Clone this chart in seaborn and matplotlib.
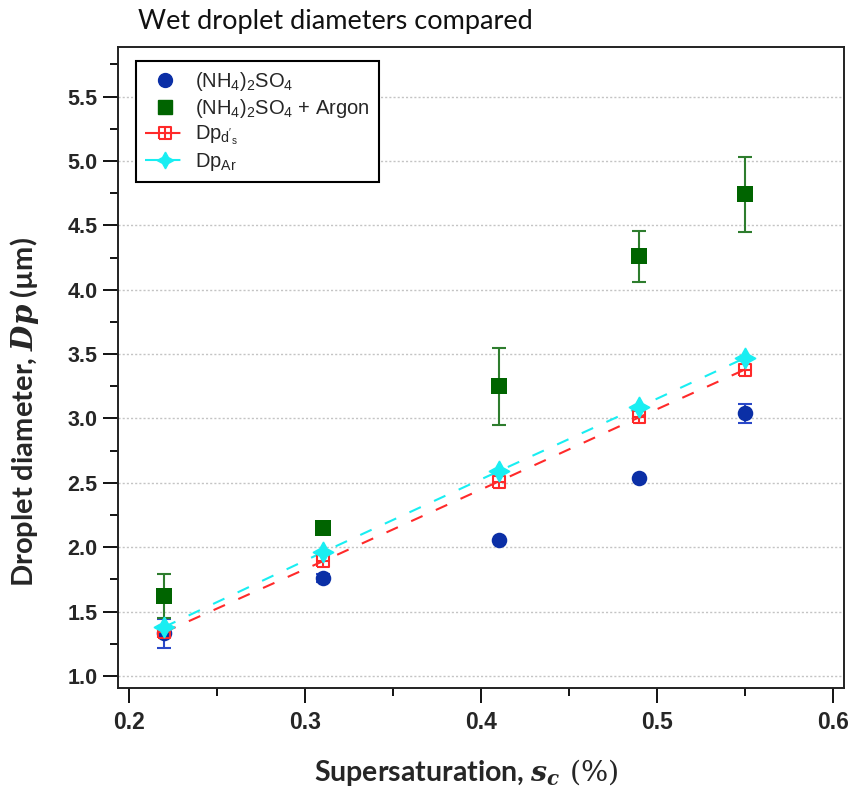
import numpy as np
import pandas as pd
import matplotlib
matplotlib.use("Agg")
import matplotlib.pyplot as plt
from matplotlib.path import Path
from matplotlib.lines import Line2D
from matplotlib.ticker import MultipleLocator
import seaborn as sns

# ---------------- data ----------------
supersat = [0.22, 0.31, 0.41, 0.49, 0.55]
as_dp = [1.33, 1.76, 2.06, 2.54, 3.04]
as_err = [0.11, 0.03, 0.0, 0.0, 0.075]
ar_dp = [1.62, 2.15, 3.25, 4.26, 4.74]
ar_err = [0.17, 0.0, 0.30, 0.20, 0.29]
dp_ds = [1.34, 1.89, 2.51, 3.01, 3.38]
dp_ar = [1.38, 1.96, 2.59, 3.09, 3.47]

x_ticks = [0.2, 0.3, 0.4, 0.5, 0.6]
x_ticklabels = ["0.2", "0.3", "0.4", "0.5", "0.6"]
y_ticks = [1.0, 1.5, 2.0, 2.5, 3.0, 3.5, 4.0, 4.5, 5.0, 5.5]
y_ticklabels = ["1.0", "1.5", "2.0", "2.5", "3.0", "3.5", "4.0", "4.5", "5.0", "5.5"]

label_as = r"(NH$_\mathrm{4}$)$_\mathrm{2}$SO$_\mathrm{4}$"
label_ar = r"(NH$_\mathrm{4}$)$_\mathrm{2}$SO$_\mathrm{4}$ + Argon"
label_ds = r"Dp$_{\mathrm{d}'_\mathrm{s}}$"
label_dar = r"Dp$_\mathrm{Ar}$"
title = "Wet droplet diameters compared"
xlabel = r"Supersaturation, $s_c\ \mathsf{(\%)}$"
ylabel = r"Droplet diameter, $Dp$ (µm)"

df = pd.DataFrame({"s": supersat, "as": as_dp, "ar": ar_dp, "ds": dp_ds, "dar": dp_ar})

# ---------------- style ----------------
sns.set_theme(style="white")
plt.rcParams["font.family"] = ["Liberation Sans", "DejaVu Sans"]
plt.rcParams["mathtext.fontset"] = "custom"
plt.rcParams["mathtext.rm"] = "Liberation Sans"
plt.rcParams["mathtext.it"] = "DejaVu Serif:italic:bold"
plt.rcParams["mathtext.bf"] = "DejaVu Serif:bold"
plt.rcParams["mathtext.sf"] = "DejaVu Serif"

BLUE = "#0b2fa6"
BLUE_EB = "#2a48c8"
GREEN = "#006400"
GREEN_EB = "#2e7d2e"
RED = "#ff2a2a"
CYAN = "#19eef2"

boxplus = Path(
    [(-1, -1), (1, -1), (1, 1), (-1, 1), (-1, -1), (0, -1), (0, 1), (-1, 0), (1, 0)],
    [Path.MOVETO, Path.LINETO, Path.LINETO, Path.LINETO, Path.LINETO,
     Path.MOVETO, Path.LINETO, Path.MOVETO, Path.LINETO],
)
star4 = (4, 1, 0)

fig = plt.figure(figsize=(8.52, 7.91), dpi=100)
ax = fig.add_axes([0.1381, 0.1306, 0.8525, 0.8104])

# dashed lines
dash = (0, (6, 7))
sns.lineplot(data=df, x="s", y="ds", ax=ax, color=RED, lw=1.5, linestyle=dash, zorder=4)
sns.lineplot(data=df, x="s", y="dar", ax=ax, color=CYAN, lw=1.5, linestyle=dash, zorder=4)

# error bars
ax.errorbar(supersat, as_dp, yerr=as_err, fmt="none", ecolor=BLUE_EB, elinewidth=1.5,
            capsize=5, capthick=1.5, zorder=2)
ax.errorbar(supersat, ar_dp, yerr=ar_err, fmt="none", ecolor=GREEN_EB, elinewidth=1.5,
            capsize=5, capthick=1.5, zorder=2)

# points
sns.scatterplot(data=df, x="s", y="as", ax=ax, color=BLUE, marker="o", s=125,
                linewidth=0, zorder=3)
sns.scatterplot(data=df, x="s", y="ar", ax=ax, color=GREEN, marker="s", s=120,
                linewidth=0, zorder=3)
ax.plot(df["s"], df["ds"], ls="none", marker=boxplus, ms=9, mfc="none", mec=RED,
        mew=1.5, zorder=5)
ax.plot(df["s"], df["dar"], ls="none", marker=star4, ms=15, color=CYAN, mec=CYAN,
        zorder=6)

# axes
ax.set_xlim(0.1936, 0.6063)
ax.set_ylim(0.909, 5.888)
ax.set_xticks(x_ticks, labels=x_ticklabels, fontsize=16.5, fontweight="bold",
              family=["Liberation Sans Narrow", "Liberation Sans"])
ax.set_yticks(y_ticks, labels=y_ticklabels, fontsize=15.5, fontweight="bold")
ax.xaxis.set_minor_locator(MultipleLocator(0.05))
ax.yaxis.set_minor_locator(MultipleLocator(0.25))
ax.tick_params(axis="both", which="major", direction="out", length=11, width=1.3,
               color="black", left=True, bottom=True)
ax.tick_params(axis="both", which="minor", direction="out", length=6, width=1.3,
               color="black", left=True, bottom=True)
ax.tick_params(axis="y", which="major", pad=3.5)
ax.tick_params(axis="x", which="major", pad=6)

ax.grid(False)
ax.yaxis.grid(True, which="major", color="#c4c4c4", ls=(0, (1.5, 1.5)), lw=1)
for sp in ax.spines.values():
    sp.set_color("#222222")
    sp.set_linewidth(1.4)
    sp.set_visible(True)

ax.set_xlabel(xlabel, fontsize=20.5, fontweight="bold", family=["Lato", "DejaVu Sans"])
ax.set_ylabel(ylabel, fontsize=21, fontweight="bold", family=["Lato", "DejaVu Sans"])
ax.xaxis.set_label_coords(0.48, -0.108)
ax.yaxis.set_label_coords(-0.106, 0.43)

fig.text(0.162, 0.973, title, fontsize=19.5, family=["Lato", "DejaVu Sans"],
         ha="left", va="center", color="#111111")

handles = [
    Line2D([], [], ls="none", marker="o", ms=10, color=BLUE, mec=BLUE),
    Line2D([], [], ls="none", marker="s", ms=10, color=GREEN, mec=GREEN),
    Line2D([], [], ls=(0, (7, 3)), lw=1.5, color=RED, marker=boxplus, ms=9,
           mfc="none", mec=RED, mew=1.5),
    Line2D([], [], ls=(0, (7, 3)), lw=1.5, color=CYAN, marker=star4, ms=12, mec=CYAN),
]
leg = ax.legend(handles, [label_as, label_ar, label_ds, label_dar],
                loc="upper left", bbox_to_anchor=(0.025, 0.977), fontsize=14.5,
                frameon=True, fancybox=False, edgecolor="black", framealpha=1,
                handlelength=2.0, handletextpad=0.5, borderpad=0.45,
                labelspacing=0.18, borderaxespad=0)
leg.get_frame().set_linewidth(1.5)

fig.savefig("out.png", dpi=100)
